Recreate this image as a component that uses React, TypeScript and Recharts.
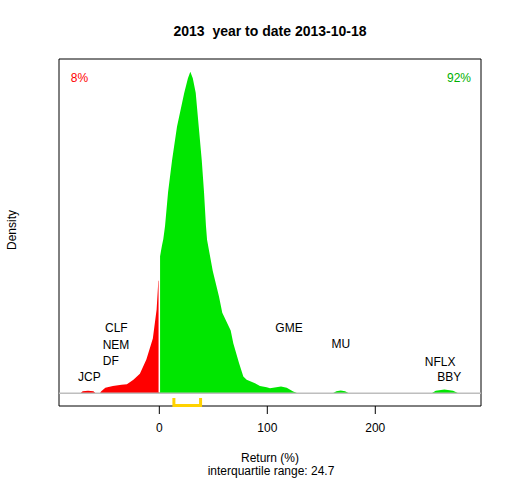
import React from 'react'
import { Area, ComposedChart, Line, ReferenceArea, ReferenceDot, ReferenceLine, XAxis, YAxis } from 'recharts'

// density of returns, left of zero (red) and right of zero (green)
const redX = [-73, -71, -66, -61, -59, -55, -54, -50, -43, -35, -30, -24, -18, -12, -6, -2.5, -0.9, 0]
const redY = [0, 0.12, 0.15, 0.12, 0, 0, 0.1, 0.33, 0.45, 0.53, 0.56, 0.83, 1.2, 2.1, 3.4, 5.2, 7.0, 7.0]

const greenX = [0, 0.6, 2.5, 3.7, 5.3, 8.1, 11.8, 16.4, 23.1, 26.5, 28.7, 31, 33.7, 36.5, 39.3, 41.4, 43.2, 44.2, 49.5, 55.3, 58.3, 66.1, 68.5, 73.8, 77.8, 80.9, 88.6, 93.2, 99.4, 102.5, 112.7, 118, 124, 128, 160.6, 164, 168, 172, 175.6, 252.2, 256, 264, 272, 276.9]
const greenY = [8.0, 8.5, 9.2, 9.6, 10.4, 12.5, 14.5, 16.6, 18.7, 19.6, 20.0, 19.6, 18.7, 16.6, 14.5, 12.5, 10.4, 9.55, 7.6, 6.0, 5.0, 3.9, 3.1, 1.87, 1.03, 0.83, 0.62, 0.45, 0.37, 0.31, 0.41, 0.33, 0.1, 0, 0, 0.12, 0.16, 0.12, 0, 0, 0.15, 0.22, 0.15, 0]

const q1 = 13.5
const q3 = 38.2

const tickers = ['JCP', 'DF', 'NEM', 'CLF', 'GME', 'MU', 'NFLX', 'BBY']
const tickerX = [-64.8, -44.9, -40.1, -39.8, 120.1, 168, 260, 268.5]
const tickerY = [1.0, 1.99, 3.03, 4.09, 4.09, 3.05, 1.97, 1.0]

const xTicks = [0, 100, 200]
const xDomain = [-92.9, 297.9]
const yDomain = [-0.8, 20.8]

const rows: any[] = [
  ...redX.map((x, i) => ({ x, red: redY[i] })),
  ...greenX.map((x, i) => ({ x, green: greenY[i] })),
  { x: q1, iqr: -0.3 },
  { x: q1, iqr: -0.77 },
  { x: q3, iqr: -0.77 },
  { x: q3, iqr: -0.3 },
]

const App = () => {
  return (
    <div style={{ position: 'relative', width: 512, height: 480, fontFamily: '"Liberation Sans", Arial, sans-serif', background: '#fff' }}>
      <style>{'body{margin:0}'}</style>
      <ComposedChart width={512} height={480} data={rows} margin={{ top: 59, right: 31, bottom: 44, left: 59 }}>
        <XAxis
          dataKey="x"
          type="number"
          domain={xDomain}
          ticks={xTicks}
          axisLine={false}
          tickSize={8}
          tickMargin={9}
          height={30}
          tick={{ fill: '#000', fontSize: 12 }}
          tickLine={{ stroke: '#000' }}
        />
        <YAxis type="number" domain={yDomain} hide />
        <Area dataKey="red" type="linear" fill="#ff0000" fillOpacity={1} stroke="none" isAnimationActive={false} />
        <Area dataKey="green" type="linear" fill="#00e600" fillOpacity={1} stroke="none" isAnimationActive={false} />
        <ReferenceLine y={0} stroke="#bebebe" strokeWidth={1.5} />
        <ReferenceLine segment={[{ x: 0, y: 0.05 }, { x: 0, y: 20 }]} stroke="#fff" strokeWidth={1.5} />
        <ReferenceArea x1={xDomain[0]} x2={xDomain[1]} y1={yDomain[0]} y2={yDomain[1]} fill="none" fillOpacity={0} stroke="#000" strokeWidth={1} />
        <Line dataKey="iqr" type="linear" stroke="#ffd200" strokeWidth={3} dot={false} isAnimationActive={false} />
        {tickers.map((t, i) => (
          <ReferenceDot key={t} x={tickerX[i]} y={tickerY[i]} r={0} fill="none" stroke="none"
            label={{ value: t, position: 'center', fill: '#000', fontSize: 12 }} />
        ))}
        <ReferenceDot x={-74} y={19.66} r={0} fill="none" stroke="none" label={{ value: '8%', position: 'center', fill: '#ff0000', fontSize: 12 }} />
        <ReferenceDot x={277.5} y={19.66} r={0} fill="none" stroke="none" label={{ value: '92%', position: 'center', fill: '#00b000', fontSize: 12 }} />
      </ComposedChart>
      <div style={{ position: 'absolute', left: 0, width: 540, top: 23, textAlign: 'center', fontWeight: 'bold', fontSize: 14, whiteSpace: 'pre' }}>2013  year to date 2013-10-18</div>
      <div style={{ position: 'absolute', left: 0, width: 540, top: 451, textAlign: 'center', fontSize: 12 }}>Return (%)</div>
      <div style={{ position: 'absolute', left: 0, width: 542, top: 464, textAlign: 'center', fontSize: 12 }}>interquartile range: 24.7</div>
      <div style={{ position: 'absolute', left: 12, top: 230, fontSize: 12, transform: 'translate(-50%, -50%) rotate(-90deg)', whiteSpace: 'nowrap' }}>Density</div>
    </div>
  )
}

export default App
